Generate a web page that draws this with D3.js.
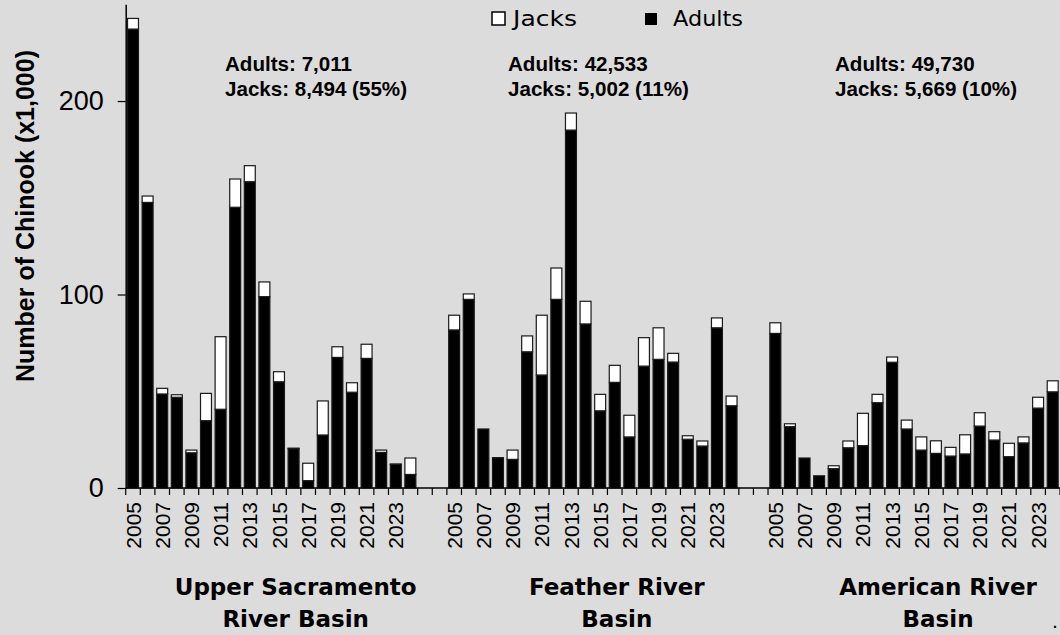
<!DOCTYPE html>
<html>
<head>
<meta charset="utf-8">
<script src="https://cdn.jsdelivr.net/npm/d3@7"></script>
<style>
  html, body { margin: 0; padding: 0; background: #dcdcdc; }
  svg { display: block; }
</style>
</head>
<body>
<svg id="chart" width="1060" height="635"></svg>
<script>
// ---- Data (thousands of Chinook) ----
const years = d3.range(2005, 2025);
const basins = ["Upper Sacramento", "Feather River", "American River"];
const basinTitles = [["Upper Sacramento", "River Basin"], ["Feather River", "Basin"], ["American River", "Basin"]];
const summaryAdults = ["Adults: 7,011", "Adults: 42,533", "Adults: 49,730"];
const summaryJacks = ["Jacks: 8,494 (55%)", "Jacks: 5,002 (11%)", "Jacks: 5,669 (10%)"];

const upperAdults = [237.2, 147.6, 48.6, 46.9, 18.2, 34.8, 40.7, 145.1, 158.3, 98.9, 54.9, 20.3, 3.8, 27.4, 67.5, 49.5, 67.0, 18.4, 12.2, 7.0];
const upperJacks  = [5.5, 3.3, 2.9, 1.3, 1.4, 14.1, 37.5, 14.6, 8.3, 7.6, 5.2, 0.3, 9.0, 17.6, 5.5, 4.9, 7.3, 1.2, 0.2, 8.5];
const featherAdults = [81.7, 97.5, 30.5, 15.7, 14.8, 70.4, 58.4, 97.5, 185.0, 84.8, 39.9, 54.6, 26.4, 63.0, 66.5, 65.1, 25.2, 21.7, 82.8, 42.5];
const featherJacks  = [7.6, 2.8, 0.0, 0.0, 4.8, 8.2, 30.9, 16.2, 8.8, 11.7, 8.5, 8.8, 11.2, 14.7, 16.3, 4.5, 1.8, 2.6, 5.1, 5.0];
const americanAdults = [79.9, 31.7, 15.5, 6.3, 10.0, 20.8, 21.9, 44.1, 65.0, 30.5, 19.6, 17.9, 16.5, 17.6, 32.0, 24.8, 16.2, 23.3, 41.3, 49.7];
const americanJacks  = [5.5, 1.5, 0.0, 0.0, 1.5, 3.5, 16.7, 4.3, 2.7, 4.6, 6.8, 6.5, 4.5, 9.9, 6.9, 4.3, 6.9, 3.1, 5.6, 5.7];

const yTicks = [0, 100, 200];
const yTitle = "Number of Chinook (x1,000)";
const legendItems = ["Jacks", "Adults"];

const adultsBy = [upperAdults, featherAdults, americanAdults];
const jacksBy = [upperJacks, featherJacks, americanJacks];

// ---- Build slots: 20 years per basin, 2 blank slots between basins ----
const slots = [];
const rows = [];
basins.forEach((b, bi) => {
  years.forEach((yr, i) => {
    const key = bi + "-" + yr;
    slots.push(key);
    rows.push({ key, basin: bi, year: yr, adults: adultsBy[bi][i], jacks: jacksBy[bi][i] });
  });
  if (bi < basins.length - 1) { slots.push("gap-" + bi + "-a"); slots.push("gap-" + bi + "-b"); }
});

const svg = d3.select("#chart");
const x0 = 125.7, x1 = 1060, yBase = 488, yTop = 4.3;

const x = d3.scaleBand().domain(slots).range([x0, x1]).paddingInner(0.25).paddingOuter(0.125);
const y = d3.scaleLinear().domain([0, 250]).range([yBase, yTop]);
const step = x.step();

const stack = d3.stack().keys(["adults", "jacks"]);
const series = stack(rows);

const gBars = svg.append("g");
const fills = { adults: "#000000", jacks: "#ffffff" };
series.forEach(s => {
  gBars.append("g").selectAll("rect")
    .data(s.filter(d => d[1] - d[0] > 0))
    .join("rect")
    .attr("x", d => x(d.data.key))
    .attr("width", x.bandwidth())
    .attr("y", d => y(d[1]))
    .attr("height", d => y(d[0]) - y(d[1]))
    .attr("fill", fills[s.key])
    .attr("stroke", "#1a1a1a")
    .attr("stroke-width", 1.2);
});

// ---- Y axis ----
const sans = "Liberation Sans, Arial, sans-serif";
const yAxis = d3.axisLeft(y).tickValues(yTicks).tickSize(8).tickPadding(14).tickSizeOuter(0);
const gy = svg.append("g").attr("transform", `translate(${x0},0)`).call(yAxis);
gy.select(".domain").attr("stroke", "#000").attr("stroke-width", 1.5);
gy.selectAll(".tick line").attr("stroke", "#000").attr("stroke-width", 1.2);
gy.selectAll(".tick text").attr("font-family", sans).attr("font-size", 27).attr("fill", "#000");

// ---- X axis (line + boundary ticks) ----
const gx = svg.append("g");
gx.append("line").attr("x1", x0).attr("x2", x1).attr("y1", yBase).attr("y2", yBase)
  .attr("stroke", "#000").attr("stroke-width", 1.5);
const bounds = slots.map(k => x(k) - step * x.paddingOuter()).concat([x1]);
gx.selectAll("line.tk").data(bounds).join("line").attr("class", "tk")
  .attr("x1", d => d).attr("x2", d => d).attr("y1", yBase).attr("y2", yBase + 7)
  .attr("stroke", "#000").attr("stroke-width", 1.2);

gx.selectAll("text.yr").data(rows.filter(r => (r.year - 2005) % 2 === 0)).join("text").attr("class", "yr")
  .attr("transform", d => `translate(${x(d.key) + x.bandwidth() / 2},${yBase + 14}) rotate(-90)`)
  .attr("text-anchor", "end").attr("dy", "0.36em")
  .attr("font-family", sans).attr("font-size", 21).attr("fill", "#000")
  .text(d => d.year);

// ---- Y title ----
svg.append("text")
  .attr("transform", `translate(34,216) rotate(-90)`)
  .attr("text-anchor", "middle")
  .attr("font-family", sans).attr("font-weight", "bold").attr("font-size", 25)
  .attr("fill", "#000").text(yTitle);

// ---- Summary annotations ----
const annX = [225, 508, 835];
basins.forEach((b, bi) => {
  const t = svg.append("text").attr("font-family", sans)
    .attr("font-weight", "bold").attr("font-size", 20.6).attr("fill", "#000");
  t.append("tspan").attr("x", annX[bi]).attr("y", 71).text(summaryAdults[bi]);
  t.append("tspan").attr("x", annX[bi]).attr("y", 96).text(summaryJacks[bi]);
});

// ---- Basin titles ----
const titleFont = "DejaVu Sans, Lato, sans-serif";
basins.forEach((b, bi) => {
  const first = x(bi + "-2005"), last = x(bi + "-2024") + x.bandwidth();
  const cx = (first + last) / 2 + 24;
  const t = svg.append("text").attr("text-anchor", "middle").attr("font-family", titleFont)
    .attr("font-weight", "bold").attr("font-size", 23).attr("fill", "#000");
  t.append("tspan").attr("x", cx).attr("y", 595).text(basinTitles[bi][0]);
  t.append("tspan").attr("x", cx).attr("y", 627).text(basinTitles[bi][1]);
});

// ---- Legend ----
const lg = svg.append("g");
lg.append("rect").attr("x", 492).attr("y", 12).attr("width", 13).attr("height", 13)
  .attr("fill", "#fff").attr("stroke", "#000").attr("stroke-width", 1.5);
lg.append("text").attr("x", 513).attr("y", 26).attr("font-family", titleFont).attr("font-size", 22)
  .attr("textLength", 64).attr("lengthAdjust", "spacingAndGlyphs")
  .attr("fill", "#000").text(legendItems[0]);
lg.append("rect").attr("x", 645).attr("y", 13).attr("width", 12).attr("height", 12).attr("fill", "#000");
lg.append("text").attr("x", 673).attr("y", 26).attr("font-family", titleFont).attr("font-size", 22)
  .attr("textLength", 70).attr("lengthAdjust", "spacingAndGlyphs")
  .attr("fill", "#000").text(legendItems[1]);

// small clipped mark at the lower right edge
svg.append("text").attr("x", 1053).attr("y", 628).attr("font-family", sans).attr("font-weight", "bold")
  .attr("font-size", 14).attr("fill", "#000").text(".");
</script>
</body>
</html>
